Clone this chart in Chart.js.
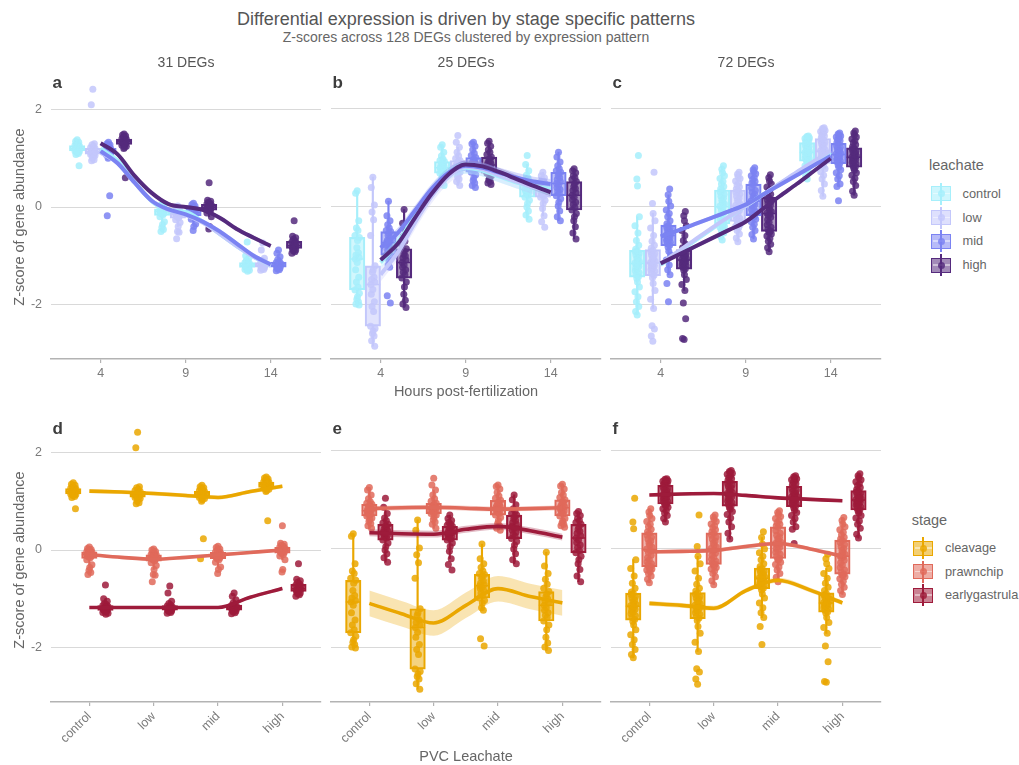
<!DOCTYPE html>
<html><head><meta charset="utf-8">
<script src="https://cdn.jsdelivr.net/npm/chart.js@4.4.1/dist/chart.umd.min.js"></script>
<style>
body{margin:0;background:#fff;font-family:"Liberation Sans",Arial,sans-serif;}
#wrap{position:relative;width:1019px;height:765px;overflow:hidden;background:#fff;}
.t{position:absolute;white-space:nowrap;transform:translate(-50%,-50%);line-height:1;z-index:5;}
.l{position:absolute;white-space:nowrap;transform:translate(0,-50%);line-height:1;z-index:5;}
canvas{position:absolute;}
.key{position:absolute;width:20px;height:22px;z-index:5;}
.key div{position:absolute;box-sizing:border-box;}
</style></head><body><div id="wrap">
<div class="t" style="left:466px;top:19.2px;font-size:18px;color:#555;">Differential expression is driven by stage specific patterns</div>
<div class="t" style="left:466px;top:37px;font-size:14px;color:#666;">Z-scores across 128 DEGs clustered by expression pattern</div>
<div class="t" style="left:186px;top:61.7px;font-size:14px;color:#555;">31 DEGs</div>
<div class="t" style="left:466px;top:61.7px;font-size:14px;color:#555;">25 DEGs</div>
<div class="t" style="left:746px;top:61.7px;font-size:14px;color:#555;">72 DEGs</div>
<div class="l" style="left:52.5px;top:81.5px;font-size:17px;font-weight:bold;color:#3d3d3d;">a</div>
<div class="l" style="left:332.5px;top:81.5px;font-size:17px;font-weight:bold;color:#3d3d3d;">b</div>
<div class="l" style="left:612.5px;top:81.5px;font-size:17px;font-weight:bold;color:#3d3d3d;">c</div>
<div class="l" style="left:52.5px;top:428.3px;font-size:17px;font-weight:bold;color:#3d3d3d;">d</div>
<div class="l" style="left:332.5px;top:428.3px;font-size:17px;font-weight:bold;color:#3d3d3d;">e</div>
<div class="l" style="left:612.5px;top:428.3px;font-size:17px;font-weight:bold;color:#3d3d3d;">f</div>
<div class="t" style="left:18.5px;top:217px;font-size:14.5px;color:#666;transform:translate(-50%,-50%) rotate(-90deg);">Z-score of gene abundance</div>
<div class="t" style="left:18.5px;top:560px;font-size:14.5px;color:#666;transform:translate(-50%,-50%) rotate(-90deg);">Z-score of gene abundance</div>
<div class="t" style="left:466px;top:391px;font-size:14.5px;color:#666;">Hours post-fertilization</div>
<div class="t" style="left:466px;top:755.5px;font-size:14.5px;color:#666;">PVC Leachate</div>
<div class="l" style="left:929px;top:165.3px;font-size:14.5px;color:#666;">leachate</div>
<div class="l" style="left:911.7px;top:520px;font-size:14.5px;color:#666;">stage</div>
</div>
<script>
// ---------------- categories / ticks ----------------
const hours = [4, 9, 14];
const leachate = ['control', 'low', 'mid', 'high'];
const stages = ['cleavage', 'prawnchip', 'earlygastrula'];
const yTicks = [-2, 0, 2];
const hourGrid = [4, 5, 6, 7, 8, 9, 10, 11, 12, 13, 14];
const levelGrid = [1, 1.5, 2, 2.5, 3, 3.5, 4];

// ---------------- cluster 1 (31 DEGs): z-scores per stage x leachate ----------------
const c1_cleavage_control = [1.38,1.35,1.33,1.3,1.28,1.27,1.26,1.25,1.24,1.23,1.22,1.21,1.2,1.2,1.19,1.18,1.17,1.16,1.15,1.14,1.13,1.12,1.1,1.08,0.85];
const c1_cleavage_low = [2.42,2.1,1.3,1.28,1.25,1.22,1.2,1.18,1.17,1.16,1.15,1.14,1.13,1.13,1.12,1.11,1.1,1.09,1.08,1.06,1.04,1.0,0.97,0.95];
const c1_cleavage_mid = [1.33,1.3,1.28,1.26,1.24,1.22,1.2,1.19,1.18,1.17,1.16,1.15,1.15,1.14,1.13,1.12,1.11,1.1,1.08,1.06,1.03,1.0,0.23,-0.18];
const c1_cleavage_high = [1.5,1.48,1.46,1.44,1.42,1.4,1.39,1.38,1.37,1.36,1.35,1.34,1.33,1.32,1.31,1.3,1.29,1.28,1.27,1.25,1.22,1.2,0.6];
const c1_prawnchip_control = [0.06,0.03,0.01,0,-0.02,-0.03,-0.04,-0.05,-0.06,-0.07,-0.08,-0.09,-0.1,-0.11,-0.12,-0.13,-0.14,-0.16,-0.2,-0.3,-0.36,-0.42,-0.46,-0.5];
const c1_prawnchip_low = [0.02,0,-0.03,-0.05,-0.07,-0.09,-0.1,-0.11,-0.12,-0.13,-0.14,-0.15,-0.16,-0.17,-0.18,-0.19,-0.2,-0.22,-0.26,-0.32,-0.4,-0.5,-0.52,-0.65];
const c1_prawnchip_mid = [0.08,0.05,0.02,0,-0.02,-0.04,-0.06,-0.08,-0.09,-0.1,-0.11,-0.12,-0.13,-0.14,-0.15,-0.16,-0.18,-0.2,-0.25,-0.35,-0.4,-0.48];
const c1_prawnchip_high = [0.5,0.14,0.12,0.1,0.08,0.06,0.04,0.03,0.02,0.01,0,-0.01,-0.02,-0.03,-0.04,-0.05,-0.07,-0.09,-0.12,-0.2,-0.4,-0.45];
const c1_earlygastrula_control = [-0.72,-1.0,-1.05,-1.1,-1.12,-1.14,-1.16,-1.17,-1.18,-1.19,-1.2,-1.2,-1.21,-1.22,-1.23,-1.24,-1.25,-1.26,-1.28,-1.3,-1.32];
const c1_earlygastrula_low = [-0.74,-0.88,-1.05,-1.1,-1.13,-1.15,-1.17,-1.18,-1.19,-1.2,-1.2,-1.21,-1.22,-1.23,-1.24,-1.25,-1.26,-1.28,-1.3];
const c1_earlygastrula_mid = [-0.88,-0.95,-1.02,-1.08,-1.12,-1.14,-1.16,-1.17,-1.18,-1.19,-1.2,-1.21,-1.22,-1.23,-1.24,-1.25,-1.27,-1.29,-1.31];
const c1_earlygastrula_high = [-0.28,-0.6,-0.63,-0.66,-0.69,-0.72,-0.74,-0.76,-0.78,-0.79,-0.8,-0.81,-0.82,-0.84,-0.86,-0.88,-0.9,-0.92,-0.95];

// ---------------- cluster 2 (25 DEGs) ----------------
const c2_cleavage_control = [0.31,0.26,-0.3,-0.45,-0.5,-0.6,-0.64,-0.7,-0.85,-0.95,-1.0,-1.05,-1.08,-1.15,-1.3,-1.45,-1.55,-1.65,-1.71,-1.78,-1.85,-1.9,-1.95,-2.0,-2.02];
const c2_cleavage_low = [0.59,0.38,0.02,-0.12,-0.28,-0.6,-1.22,-1.3,-1.35,-1.45,-1.5,-1.55,-1.6,-1.7,-1.8,-1.95,-2.05,-2.15,-2.45,-2.5,-2.55,-2.6,-2.65,-2.75,-2.86];
const c2_cleavage_mid = [0.1,-0.2,-0.3,-0.38,-0.45,-0.5,-0.52,-0.55,-0.6,-0.65,-0.7,-0.73,-0.75,-0.78,-0.8,-0.85,-0.9,-0.95,-1.0,-1.05,-1.1,-1.2,-1.25,-1.83,-1.98];
const c2_cleavage_high = [-0.07,-0.35,-0.5,-0.62,-0.72,-0.8,-0.87,-0.92,-0.98,-1.02,-1.06,-1.1,-1.15,-1.2,-1.25,-1.3,-1.35,-1.4,-1.47,-1.55,-1.65,-1.8,-1.92,-2.0,-2.07];
const c2_prawnchip_control = [1.25,1.2,1.1,1.02,0.96,0.93,0.91,0.89,0.87,0.85,0.83,0.8,0.78,0.76,0.74,0.72,0.7,0.69,0.67,0.63,0.6,0.56,0.52,0.47,0.42];
const c2_prawnchip_low = [1.44,1.3,1.2,1.1,1.02,0.97,0.93,0.91,0.89,0.87,0.85,0.84,0.82,0.8,0.79,0.77,0.75,0.74,0.72,0.69,0.65,0.6,0.55,0.5,0.42];
const c2_prawnchip_mid = [1.3,1.27,1.22,1.15,1.08,1.03,0.99,0.96,0.93,0.9,0.88,0.86,0.84,0.82,0.8,0.78,0.75,0.72,0.69,0.64,0.58,0.52,0.47,0.42,0.38];
const c2_prawnchip_high = [1.32,1.28,1.22,1.15,1.1,1.05,1.0,0.97,0.94,0.91,0.88,0.86,0.84,0.82,0.8,0.78,0.75,0.71,0.67,0.62,0.57,0.53,0.5,0.47,0.44];
const c2_earlygastrula_control = [1.03,0.85,0.72,0.63,0.58,0.53,0.5,0.47,0.45,0.42,0.4,0.37,0.34,0.32,0.3,0.28,0.25,0.22,0.18,0.12,0.05,-0.02,-0.1,-0.18,-0.27];
const c2_earlygastrula_low = [0.69,0.62,0.58,0.54,0.5,0.48,0.46,0.43,0.41,0.39,0.36,0.33,0.31,0.29,0.27,0.25,0.23,0.2,0.18,0.12,0.05,-0.05,-0.2,-0.32,-0.43];
const c2_earlygastrula_mid = [1.1,1.0,0.9,0.82,0.76,0.72,0.69,0.66,0.62,0.58,0.54,0.5,0.46,0.42,0.38,0.34,0.3,0.26,0.21,0.15,0.08,0.0,-0.1,-0.22,-0.3];
const c2_earlygastrula_high = [0.76,0.72,0.68,0.62,0.58,0.54,0.5,0.45,0.4,0.36,0.32,0.27,0.22,0.18,0.13,0.08,0.03,-0.03,-0.08,-0.15,-0.22,-0.3,-0.42,-0.55,-0.67];

// ---------------- cluster 3 (72 DEGs) ----------------
const c3_cleavage_control = [-2.22,-2.15,-2.05,-1.95,-1.85,-1.75,-1.65,-1.55,-1.48,-1.44,-1.4,-1.36,-1.32,-1.29,-1.26,-1.23,-1.2,-1.18,-1.16,-1.13,-1.1,-1.07,-1.04,-1.0,-0.97,-0.93,-0.91,-0.88,-0.8,-0.7,-0.55,-0.4,-0.22,0.41,0.55,1.03];
const c3_cleavage_low = [-2.76,-2.65,-2.51,-2.44,-2.09,-1.9,-1.72,-1.58,-1.46,-1.41,-1.37,-1.33,-1.3,-1.27,-1.24,-1.21,-1.19,-1.17,-1.15,-1.12,-1.09,-1.06,-1.03,-1.0,-0.97,-0.93,-0.9,-0.86,-0.8,-0.72,-0.6,-0.45,-0.3,-0.15,0.05,0.69];
const c3_cleavage_mid = [-1.95,-1.58,-1.4,-1.3,-1.2,-1.1,-1.0,-0.92,-0.84,-0.8,-0.77,-0.74,-0.71,-0.69,-0.67,-0.65,-0.63,-0.61,-0.59,-0.57,-0.55,-0.53,-0.51,-0.48,-0.45,-0.42,-0.4,-0.36,-0.3,-0.22,-0.15,-0.08,0.0,0.1,0.23,0.35];
const c3_cleavage_high = [-2.72,-2.7,-2.3,-1.98,-1.72,-1.6,-1.5,-1.4,-1.31,-1.28,-1.25,-1.22,-1.2,-1.18,-1.16,-1.14,-1.12,-1.11,-1.09,-1.07,-1.05,-1.03,-1.01,-0.99,-0.97,-0.94,-0.91,-0.85,-0.78,-0.7,-0.6,-0.5,-0.4,-0.3,-0.2,-0.11];
const c3_prawnchip_control = [-0.69,-0.62,-0.55,-0.5,-0.46,-0.43,-0.41,-0.39,-0.38,-0.36,-0.33,-0.3,-0.26,-0.22,-0.18,-0.13,-0.08,-0.03,0.0,0.04,0.08,0.12,0.16,0.2,0.24,0.28,0.32,0.35,0.4,0.45,0.5,0.56,0.62,0.68,0.75,0.82];
const c3_prawnchip_low = [-0.73,-0.65,-0.57,-0.5,-0.45,-0.41,-0.38,-0.35,-0.33,-0.31,-0.28,-0.25,-0.21,-0.17,-0.13,-0.09,-0.05,-0.02,0.01,0.04,0.08,0.12,0.16,0.2,0.24,0.28,0.32,0.35,0.39,0.43,0.47,0.51,0.56,0.6,0.65,0.69];
const c3_prawnchip_mid = [-0.67,-0.58,-0.5,-0.43,-0.37,-0.32,-0.27,-0.23,-0.21,-0.19,-0.15,-0.11,-0.07,-0.03,0.01,0.04,0.07,0.09,0.11,0.14,0.17,0.2,0.24,0.28,0.32,0.37,0.44,0.47,0.5,0.54,0.58,0.62,0.66,0.7,0.74,0.78];
const c3_prawnchip_high = [-0.93,-0.85,-0.78,-0.72,-0.66,-0.61,-0.57,-0.54,-0.53,-0.51,-0.47,-0.43,-0.38,-0.33,-0.28,-0.23,-0.19,-0.16,-0.14,-0.11,-0.07,-0.03,0.01,0.05,0.09,0.13,0.17,0.2,0.24,0.29,0.34,0.39,0.45,0.51,0.58,0.64];
const c3_earlygastrula_control = [0.55,0.62,0.68,0.73,0.78,0.82,0.85,0.88,0.9,0.92,0.95,0.97,0.99,1.01,1.03,1.05,1.07,1.09,1.1,1.12,1.14,1.16,1.18,1.2,1.22,1.25,1.29,1.31,1.33,1.35,1.37,1.38,1.39,1.4,1.42,1.43];
const c3_earlygastrula_low = [0.2,0.32,0.45,0.55,0.63,0.7,0.76,0.81,0.85,0.88,0.91,0.94,0.97,1.0,1.03,1.06,1.09,1.11,1.13,1.15,1.18,1.21,1.24,1.27,1.3,1.33,1.37,1.4,1.43,1.46,1.49,1.52,1.54,1.56,1.58,1.6];
const c3_earlygastrula_mid = [0.11,0.4,0.45,0.55,0.62,0.68,0.74,0.79,0.84,0.87,0.9,0.92,0.94,0.96,0.98,1.0,1.02,1.04,1.06,1.08,1.1,1.12,1.14,1.17,1.2,1.23,1.27,1.3,1.33,1.36,1.39,1.41,1.43,1.45,1.47,1.49];
const c3_earlygastrula_high = [0.22,0.3,0.42,0.5,0.57,0.63,0.68,0.73,0.77,0.8,0.83,0.86,0.89,0.91,0.93,0.95,0.97,0.99,1.0,1.02,1.04,1.06,1.08,1.1,1.13,1.16,1.18,1.21,1.25,1.29,1.33,1.37,1.41,1.45,1.49,1.53];

// ---------------- smoothed trends over hours (top row), read at hourGrid ----------------
const fitHpf_c1_control = [1.2,0.95,0.52,0.12,-0.07,-0.1,-0.3,-0.55,-0.8,-1.02,-1.2];
const fitHpf_c1_low = [1.12,0.9,0.5,0.13,-0.06,-0.16,-0.32,-0.55,-0.8,-1.02,-1.2];
const fitHpf_c1_mid = [1.15,0.9,0.5,0.13,-0.05,-0.15,-0.3,-0.5,-0.75,-1.0,-1.18];
const fitHpf_c1_high = [1.31,1.08,0.64,0.29,0.06,0.0,-0.06,-0.22,-0.45,-0.63,-0.8];
const fitHpf_c2_control = [-1.15,-0.75,-0.2,0.3,0.65,0.78,0.72,0.6,0.48,0.4,0.35];
const fitHpf_c2_low = [-1.4,-0.95,-0.35,0.2,0.6,0.8,0.75,0.62,0.5,0.38,0.3];
const fitHpf_c2_mid = [-0.85,-0.55,-0.1,0.35,0.68,0.82,0.78,0.68,0.58,0.5,0.45];
const fitHpf_c2_high = [-1.1,-0.77,-0.25,0.25,0.65,0.85,0.81,0.69,0.55,0.41,0.28];
const fitHpf_c3_control = [-1.2,-0.95,-0.71,-0.47,-0.23,0.0,0.23,0.45,0.67,0.88,1.1];
const fitHpf_c3_low = [-1.18,-0.93,-0.69,-0.45,-0.22,0.0,0.23,0.46,0.69,0.91,1.13];
const fitHpf_c3_mid = [-0.62,-0.5,-0.37,-0.24,-0.11,0.03,0.23,0.43,0.63,0.83,1.02];
const fitHpf_c3_high = [-1.17,-1.0,-0.83,-0.66,-0.49,-0.32,-0.06,0.2,0.45,0.71,0.97];
const seHpf_c1 = [0.05,0.05,0.05,0.04];
const seHpf_c2 = [0.12,0.14,0.1,0.08];
const seHpf_c3 = [0.04,0.04,0.04,0.04];

// ---------------- smoothed trends over leachate (bottom row), read at levelGrid ----------------
const fitLevel_c1_cleavage = [1.21,1.19,1.16,1.12,1.08,1.2,1.31];
const fitLevel_c1_prawnchip = [-0.09,-0.15,-0.19,-0.15,-0.1,-0.05,0.0];
const fitLevel_c1_earlygastrula = [-1.18,-1.18,-1.18,-1.18,-1.18,-0.97,-0.79];
const fitLevel_c2_cleavage = [-1.11,-1.32,-1.51,-1.15,-0.81,-0.97,-1.1];
const fitLevel_c2_prawnchip = [0.82,0.84,0.85,0.83,0.81,0.82,0.84];
const fitLevel_c2_earlygastrula = [0.33,0.31,0.3,0.4,0.46,0.37,0.24];
const fitLevel_c3_cleavage = [-1.11,-1.15,-1.21,-0.85,-0.64,-0.84,-1.1];
const fitLevel_c3_prawnchip = [-0.06,-0.05,-0.03,0.05,0.11,0.0,-0.15];
const fitLevel_c3_earlygastrula = [1.1,1.12,1.13,1.09,1.04,1.01,0.98];
const seLevel_c1 = [0.04,0.03,0.03];
const seLevel_c2 = [0.26,0.05,0.07];
const seLevel_c3 = [0.05,0.04,0.03];

// ---------------- lookup tables built from the arrays ----------------
const DATA = [
  [[c1_cleavage_control,c1_cleavage_low,c1_cleavage_mid,c1_cleavage_high],
   [c1_prawnchip_control,c1_prawnchip_low,c1_prawnchip_mid,c1_prawnchip_high],
   [c1_earlygastrula_control,c1_earlygastrula_low,c1_earlygastrula_mid,c1_earlygastrula_high]],
  [[c2_cleavage_control,c2_cleavage_low,c2_cleavage_mid,c2_cleavage_high],
   [c2_prawnchip_control,c2_prawnchip_low,c2_prawnchip_mid,c2_prawnchip_high],
   [c2_earlygastrula_control,c2_earlygastrula_low,c2_earlygastrula_mid,c2_earlygastrula_high]],
  [[c3_cleavage_control,c3_cleavage_low,c3_cleavage_mid,c3_cleavage_high],
   [c3_prawnchip_control,c3_prawnchip_low,c3_prawnchip_mid,c3_prawnchip_high],
   [c3_earlygastrula_control,c3_earlygastrula_low,c3_earlygastrula_mid,c3_earlygastrula_high]]
];
const FIT_HPF = [
  [fitHpf_c1_control,fitHpf_c1_low,fitHpf_c1_mid,fitHpf_c1_high],
  [fitHpf_c2_control,fitHpf_c2_low,fitHpf_c2_mid,fitHpf_c2_high],
  [fitHpf_c3_control,fitHpf_c3_low,fitHpf_c3_mid,fitHpf_c3_high]];
const SE_HPF = [seHpf_c1, seHpf_c2, seHpf_c3];
const FIT_LVL = [
  [fitLevel_c1_cleavage,fitLevel_c1_prawnchip,fitLevel_c1_earlygastrula],
  [fitLevel_c2_cleavage,fitLevel_c2_prawnchip,fitLevel_c2_earlygastrula],
  [fitLevel_c3_cleavage,fitLevel_c3_prawnchip,fitLevel_c3_earlygastrula]];
const SE_LVL = [seLevel_c1, seLevel_c2, seLevel_c3];

// ---------------- styles / layout ----------------
const LEACH_COLORS = ['#a6effb', '#c3c7fb', '#7b83f2', '#552a7d'];
const STAGE_COLORS = ['#eaa700', '#e06a5b', '#9e1b3b'];
const DODGE_T = [-1.38, -0.46, 0.46, 1.38];
const DODGE_B = [-0.25, 0, 0.25];
const JIT = [0, -0.7, 0.7, -0.35, 0.35, -1, 1, 0.15, -0.15, 0.55, -0.55, 0.85, -0.85];
const COLS = [51, 331, 611];
const PW = 270, YW = 51, PADR = 12;
const ROWS = [
  {top: 74.7, bottom: 359, canvasTop: 60, canvasH: 335, xmin: 1.08, xmax: 16.96, jw: 0.13, lw: 4},
  {top: 417.4, bottom: 702, canvasTop: 403, canvasH: 362, xmin: 0.404, xmax: 4.6, jw: 0.04, lw: 3.6}
];
const AXIS_COL = '#b3b3b3';
const FONT = 'Liberation Sans';

function rgba(hex, a) {
  const n = parseInt(hex.slice(1), 16);
  return `rgba(${(n >> 16) & 255},${(n >> 8) & 255},${n & 255},${a})`;
}
function quant(s, p) {
  const pos = (s.length - 1) * p, lo = Math.floor(pos), hi = Math.ceil(pos);
  return s[lo] + (s[hi] - s[lo]) * (pos - lo);
}
function boxStats(vals) {
  const s = [...vals].sort((a, b) => a - b);
  const q1 = quant(s, 0.25), med = quant(s, 0.5), q3 = quant(s, 0.75), iqr = q3 - q1;
  const lo = s.find(v => v >= q1 - 1.5 * iqr);
  const hi = [...s].reverse().find(v => v <= q3 + 1.5 * iqr);
  return {q1, med, q3, lo, hi};
}

const wrap = document.getElementById('wrap');

function buildPanel(row, k) {
  const R = ROWS[row];
  const canvas = document.createElement('canvas');
  const cw = YW + PW + PADR, ch = R.canvasH;
  canvas.width = cw; canvas.height = ch;
  canvas.style.left = (COLS[k] - YW) + 'px';
  canvas.style.top = R.canvasTop + 'px';
  canvas.style.width = cw + 'px'; canvas.style.height = ch + 'px';
  wrap.appendChild(canvas);
  const padT = R.top - R.canvasTop;
  const xh = ch - padT - (R.bottom - R.top);
  const datasets = [];
  const nColors = row === 0 ? leachate.length : stages.length;
  const nPos = row === 0 ? hours.length : leachate.length;
  for (let g = 0; g < nColors; g++) {
    const col = row === 0 ? LEACH_COLORS[g] : STAGE_COLORS[g];
    const boxes = [], whis = [], meds = [], pts = [];
    for (let p = 0; p < nPos; p++) {
      const s = row === 0 ? p : g, l = row === 0 ? g : p;
      const vals = DATA[k][s][l];
      const x = row === 0 ? hours[p] + DODGE_T[g] : (p + 1) + DODGE_B[g];
      const b = boxStats(vals);
      boxes.push({x, y: [b.q1, b.q3]});
      whis.push({x, y: [b.lo, b.q1]}, {x, y: [b.q3, b.hi]});
      meds.push({x, y: b.med});
      vals.forEach((v, i) => pts.push({x: x + JIT[i % JIT.length] * R.jw, y: v}));
    }
    datasets.push({type: 'bar', data: whis, backgroundColor: col, borderWidth: 0, barThickness: 1.5, maxBarThickness: 1.5, grouped: false, order: 6});
    datasets.push({type: 'bar', data: boxes, backgroundColor: rgba(col, 0.5), borderColor: col, borderWidth: 1.5, borderSkipped: false, barThickness: 15.5, maxBarThickness: 15.5, grouped: false, order: 5});
    datasets.push({type: 'scatter', data: meds, pointStyle: 'line', pointRadius: 7.5, pointBorderColor: col, pointBorderWidth: 1.5, borderColor: col, order: 4});
    datasets.push({type: 'scatter', data: pts, pointRadius: 3.5, pointBackgroundColor: rgba(col, 0.85), backgroundColor: rgba(col, 0.85), pointBorderWidth: 0, borderWidth: 0, order: 3 - g * 0.01});
    const grid = row === 0 ? hourGrid : levelGrid;
    const fit = row === 0 ? FIT_HPF[k][g] : FIT_LVL[k][g];
    const se = (row === 0 ? SE_HPF[k] : SE_LVL[k])[g];
    datasets.push({type: 'line', data: grid.map((x, i) => ({x, y: fit[i] - se})), borderWidth: 0, borderColor: 'rgba(0,0,0,0)', pointRadius: 0, fill: false, cubicInterpolationMode: 'monotone', order: 2});
    datasets.push({type: 'line', data: grid.map((x, i) => ({x, y: fit[i] + se})), borderWidth: 0, borderColor: 'rgba(0,0,0,0)', pointRadius: 0, fill: '-1', backgroundColor: rgba(col, 0.3), cubicInterpolationMode: 'monotone', order: 2});
    datasets.push({type: 'line', data: grid.map((x, i) => ({x, y: fit[i]})), borderColor: col, borderWidth: R.lw, pointRadius: 0, fill: false, cubicInterpolationMode: 'monotone', order: 1 - g * 0.01});
  }
  const xTicks = row === 0 ? hours : leachate.map((_, i) => i + 1);
  new Chart(canvas, {
    type: 'scatter',
    data: {datasets},
    options: {
      responsive: false, animation: false, events: [], devicePixelRatio: 1,
      layout: {padding: {top: padT, right: PADR, left: 0, bottom: 0}},
      plugins: {legend: {display: false}, tooltip: {enabled: false}},
      scales: {
        x: {
          type: 'linear', min: R.xmin, max: R.xmax, offset: false,
          grid: {display: true, drawOnChartArea: false, drawTicks: true, tickLength: 4, color: AXIS_COL, lineWidth: 1.2, offset: false},
          border: {display: true, color: AXIS_COL, width: 1.6},
          ticks: {
            autoSkip: false, padding: 3, color: '#7a7a7a', font: {family: FONT, size: 12.5},
            minRotation: row === 0 ? 0 : 45, maxRotation: row === 0 ? 0 : 45,
            callback: v => row === 0 ? String(v) : leachate[v - 1]
          },
          afterBuildTicks: s => { s.ticks = xTicks.map(v => ({value: v})); },
          afterFit: s => { s.height = xh; }
        },
        y: {
          type: 'linear', min: -3.12, max: 2.68,
          grid: {color: '#d9d9d9', lineWidth: 1, drawTicks: false},
          border: {display: false},
          ticks: {display: k === 0, padding: 9, color: '#7a7a7a', font: {family: FONT, size: 12.5}},
          afterBuildTicks: s => { s.ticks = yTicks.map(v => ({value: v})); },
          afterFit: s => { s.width = YW; }
        }
      }
    }
  });
}

for (let row = 0; row < 2; row++) for (let k = 0; k < 3; k++) buildPanel(row, k);

// ---------------- legends (HTML) ----------------
function addLegend(names, colors, keyLeft, labelLeft, centers) {
  names.forEach((name, i) => {
    const col = colors[i], cy = centers[i];
    const key = document.createElement('div');
    key.className = 'key';
    key.style.left = keyLeft + 'px';
    key.style.top = (cy - 11) + 'px';
    key.innerHTML =
      `<div style="left:9.25px;top:0;width:1.5px;height:22px;background:${col}"></div>` +
      `<div style="left:0;top:3.5px;width:20px;height:15px;border:1.5px solid ${col};background:${rgba(col, 0.55)}"></div>` +
      `<div style="left:1.5px;top:10.25px;width:17px;height:1.5px;background:rgba(255,255,255,0.45)"></div>` +
      `<div style="left:6.5px;top:7.5px;width:7px;height:7px;border-radius:50%;background:${rgba(col, 0.85)}"></div>`;
    wrap.appendChild(key);
    const lab = document.createElement('div');
    lab.className = 'l';
    lab.style.left = labelLeft + 'px';
    lab.style.top = cy + 'px';
    lab.style.fontSize = '12.8px';
    lab.style.color = '#666';
    lab.textContent = name;
    wrap.appendChild(lab);
  });
}
addLegend(leachate, LEACH_COLORS, 931, 962.5, [193.5, 217.5, 241, 265]);
addLegend(stages, STAGE_COLORS, 913, 945, [548, 571.7, 595]);
</script>
</body></html>
